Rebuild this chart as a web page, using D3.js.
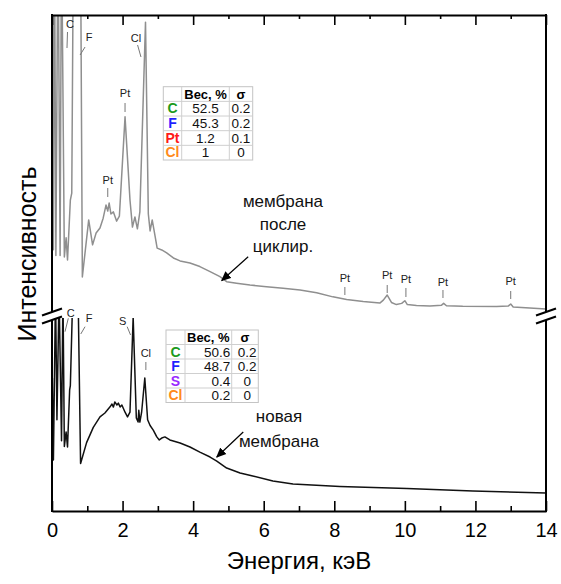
<!DOCTYPE html>
<html><head><meta charset="utf-8">
<script src="https://cdn.jsdelivr.net/npm/d3@7"></script>
<style>body{margin:0;background:#fff} svg{display:block}</style>
</head><body>
<svg id="chart" width="561" height="584"></svg>
<script>
// ---------- data ----------
const upperEnergy = [0.01,0.04,0.07,0.11,0.17,0.23,0.27,0.35,0.40,0.44,0.52,0.56,0.62,0.71,0.82,0.86,1.04,1.15,1.25,1.36,1.45,1.53,1.58,1.62,1.67,1.74,1.83,1.91,2.07,2.21,2.28,2.35,2.42,2.49,2.65,2.73,2.78,2.84,2.92,2.98,3.11,3.25,3.44,3.63,3.91,4.19,4.48,4.76,4.95,5.23,5.61,6.08,6.55,7.03,7.50,7.96,8.35,8.82,9.29,9.39,9.50,9.62,9.76,9.91,10.0,10.07,10.33,10.71,11.04,11.10,11.18,11.64,12.60,12.93,13.00,13.07,13.54,14.0];
const upperIntensity = [120,21,130,19,130,19,130,18.5,25,17.5,37.7,40,150,150,100,11.8,31,22.6,26.6,28.3,31.6,36,34,36.7,33,33.7,30.6,32.3,65.7,37.7,28.6,32,28,33.7,97.6,33,27.3,31,25.6,21.5,20.9,19.9,18.2,17.2,16.5,15.3,13.6,11.9,10.2,9.7,9.1,8.5,8.0,7.4,6.5,5.1,4.2,3.5,3.0,4.0,5.7,3.2,2.5,2.9,3.8,2.5,2.2,2.0,2.3,2.9,2.1,1.9,1.85,2.0,2.7,1.7,1.35,1.0];

const lowerEnergy = [0.01,0.04,0.10,0.14,0.20,0.27,0.31,0.35,0.40,0.44,0.50,0.52,0.57,0.62,0.70,0.75,0.81,0.98,1.17,1.36,1.50,1.64,1.70,1.74,1.78,1.84,1.88,1.93,1.98,2.07,2.14,2.21,2.30,2.39,2.44,2.46,2.49,2.54,2.63,2.71,2.78,2.87,2.97,3.04,3.11,3.20,3.34,3.63,3.91,4.19,4.48,4.67,4.95,5.33,5.69,6.26,6.83,8.16,10.06,11.93,14.0];
const lowerIntensity = [70,26.8,115,48,115,37,115,34,41.6,33.7,63.7,66,101,160,160,101,25,36,44,49.5,51.6,54.7,56.3,54.7,57.4,55.8,56.8,54.7,55.8,52,49.5,52,102,49,46.8,53,46.8,52,70,48,45,42.6,39,37.4,38.4,39,37.4,35.8,33.7,31,28.4,26.3,22.6,20,18.4,15.8,14.2,12.9,11.8,10.5,9.5];

const xMajorTicks = [0,2,4,6,8,10,12,14];
const xMinorTicks = [1,3,5,7,9,11,13];

const upperTableElements = ["C","F","Pt","Cl"];
const upperTableWeight = ["52.5","45.3","1.2","1"];
const upperTableSigma = ["0.2","0.2","0.1","0"];
const lowerTableElements = ["C","F","S","Cl"];
const lowerTableWeight = ["50.6","48.7","0.4","0.2"];
const lowerTableSigma = ["0.2","0.2","0","0"];
const tableHeader = ["", "Вес, %", "σ"];

const upperPeakLabels = ["C","F","Cl","Pt","Pt","Pt","Pt","Pt","Pt","Pt"];
const upperPeakEnergy = [0.51,1.05,2.38,2.07,1.58,8.30,9.50,10.03,11.08,13.0];
const lowerPeakLabels = ["C","F","S","Cl"];
const lowerPeakEnergy = [0.53,1.05,2.00,2.66];

const xTitle = "Энергия, кэВ";
const yTitle = "Интенсивность";
const upperCaption = ["мембрана","после","циклир."];
const lowerCaption = ["новая","мембрана"];

// ---------- layout ----------
const L=52, R=546, T=15, B=511, UB=312, LT=321;
const FONT='"Liberation Sans", Arial, sans-serif';
const x = d3.scaleLinear().domain([0,14]).range([L,R]);
const yUp = d3.scaleLinear().domain([0,100]).range([UB,T]);
const yLow = d3.scaleLinear().domain([0,100]).range([B,LT]);
const svg = d3.select('#chart');
svg.append('rect').attr('width',561).attr('height',584).attr('fill','#fff');

const defs = svg.append('defs');
defs.append('clipPath').attr('id','cu').append('rect')
  .attr('x',L).attr('y',T).attr('width',R-L).attr('height',UB-T);
defs.append('clipPath').attr('id','cl').append('rect')
  .attr('x',L).attr('y',318).attr('width',R-L).attr('height',B-318);
defs.append('marker').attr('id','ah').attr('viewBox','0 0 10 10')
  .attr('refX',9).attr('refY',5).attr('markerWidth',10).attr('markerHeight',10)
  .attr('markerUnits','userSpaceOnUse').attr('orient','auto')
  .append('path').attr('d','M0,0.5L10,5L0,9.5Z').attr('fill','#000');

// ---------- curves ----------
const lineUp = d3.line().x(d=>x(d[0])).y(d=>yUp(d[1]));
const lineLow = d3.line().x(d=>x(d[0])).y(d=>yLow(d[1]));
svg.append('path').datum(d3.zip(upperEnergy, upperIntensity))
  .attr('clip-path','url(#cu)').attr('d',lineUp)
  .attr('fill','none').attr('stroke','#8f8f8f').attr('stroke-width',1.5).attr('stroke-linejoin','round');
svg.append('path').datum(d3.zip(lowerEnergy, lowerIntensity))
  .attr('clip-path','url(#cl)').attr('d',lineLow)
  .attr('fill','none').attr('stroke','#111').attr('stroke-width',1.5).attr('stroke-linejoin','round');

// ---------- axes ----------
function styleAxis(g){ g.selectAll('path,line').attr('stroke','#000'); g.selectAll('.tick line').attr('stroke-width',1.6); g.select('.domain').attr('stroke-width',2); }
const gb = svg.append('g').attr('transform',`translate(0,${B})`)
  .call(d3.axisBottom(x).tickValues(xMajorTicks).tickSize(-10).tickSizeOuter(0).tickPadding(12).tickFormat(d3.format('d')));
styleAxis(gb);
gb.selectAll('text').attr('font-family',FONT).attr('font-size',20).attr('fill','#000');
const gbm = svg.append('g').attr('transform',`translate(0,${B})`)
  .call(d3.axisBottom(x).tickValues(xMinorTicks).tickSize(-5).tickSizeOuter(0).tickFormat(''));
gbm.select('.domain').remove(); styleAxis(gbm);
const gt = svg.append('g').attr('transform',`translate(0,${T})`)
  .call(d3.axisTop(x).tickValues(xMajorTicks).tickSize(-10).tickSizeOuter(0).tickFormat(''));
styleAxis(gt);
const gtm = svg.append('g').attr('transform',`translate(0,${T})`)
  .call(d3.axisTop(x).tickValues(xMinorTicks).tickSize(-4).tickSizeOuter(0).tickFormat(''));
gtm.select('.domain').remove(); styleAxis(gtm);

// side frame lines with break
[L,R].forEach(xs=>{
  svg.append('line').attr('x1',xs).attr('x2',xs).attr('y1',T-1).attr('y2',UB).attr('stroke','#000').attr('stroke-width',2);
  svg.append('line').attr('x1',xs).attr('x2',xs).attr('y1',LT-1).attr('y2',B+1).attr('stroke','#000').attr('stroke-width',2);
  [UB,LT-1].forEach(yy=>{
    svg.append('line').attr('x1',xs-10).attr('y1',yy+3.5).attr('x2',xs+10).attr('y2',yy-3.5)
      .attr('stroke','#000').attr('stroke-width',2);
  });
});

// ---------- titles ----------
svg.append('text').attr('x',(L+R)/2).attr('y',569).attr('text-anchor','middle')
  .attr('font-family',FONT).attr('font-size',24).text(xTitle);
svg.append('text').attr('transform',`translate(36,254) rotate(-90)`).attr('text-anchor','middle')
  .attr('font-family',FONT).attr('font-size',25).text(yTitle);

// ---------- peak labels ----------
// [text dx from anchor, text y, line x1 offset, y1, line x2 offset, y2]
const upperLabelGeom = [
  [0,28, -2.5,32, -3,48],
  [0,41, -4,47, -9,55],
  [0,42, 1.6,45, 5,57],
  [0,97, 0,103, 0,112],
  [0,184, 0,188, 0,197],
  [0,282, 0,287, 0,295],
  [0,279, 0,285, 0,293],
  [0,283, 0,288, 0,297],
  [0,286, 0,290, 0,298],
  [0,285, 0,291, 0,299]
];
const lowerLabelGeom = [
  [0,317, -2.4,318.3, -5.7,331.7],
  [0,322, -4,326.7, -8.3,334],
  [0,325, 4.6,326.7, 8,335],
  [0,357, 0,362, 0,370]
];
function peakLabels(labels, energies, geom){
  labels.forEach((t,i)=>{
    const g = geom[i], ax = x(energies[i]);
    svg.append('line').attr('x1',ax+g[2]).attr('y1',g[3]).attr('x2',ax+g[4]).attr('y2',g[5])
      .attr('stroke','#777').attr('stroke-width',1);
    svg.append('text').attr('x',ax+g[0]).attr('y',g[1]).attr('text-anchor','middle')
      .attr('font-family',FONT).attr('font-size',11).attr('fill','#222').text(t);
  });
}
peakLabels(upperPeakLabels, upperPeakEnergy, upperLabelGeom);
peakLabels(lowerPeakLabels, lowerPeakEnergy, lowerLabelGeom);

// ---------- captions & arrows ----------
upperCaption.forEach((t,i)=>{
  svg.append('text').attr('x',283).attr('y',207+i*22.5).attr('text-anchor','middle')
    .attr('font-family',FONT).attr('font-size',17).attr('fill','#111').text(t);
});
lowerCaption.forEach((t,i)=>{
  svg.append('text').attr('x',279).attr('y',422+i*25).attr('text-anchor','middle')
    .attr('font-family',FONT).attr('font-size',17).attr('fill','#111').text(t);
});
svg.append('line').attr('x1',x(5.56)).attr('y1',yUp(18.6)).attr('x2',x(4.81)).attr('y2',yUp(10.6))
  .attr('stroke','#000').attr('stroke-width',1.2).attr('marker-end','url(#ah)');
svg.append('line').attr('x1',x(5.42)).attr('y1',yLow(41.6)).attr('x2',x(4.67)).attr('y2',yLow(28.4))
  .attr('stroke','#000').attr('stroke-width',1.2).attr('marker-end','url(#ah)');

// ---------- tables ----------
const elemColor = {C:'#1c9a1c', F:'#1f1fff', Pt:'#ff1a1a', Cl:'#ff8a1a', S:'#9a2cff'};
function drawTable(x0, y0, colW, rowH, elems, weights, sigmas, alignW, sigmaCx){
  const g = svg.append('g');
  const tw = d3.sum(colW), th = rowH*(elems.length+1);
  g.append('rect').attr('x',x0).attr('y',y0).attr('width',tw).attr('height',th)
    .attr('fill','#fff').attr('stroke','#c4c4c4').attr('stroke-width',1);
  let cx = x0;
  const colX = colW.map(w=>{const s=cx; cx+=w; return s;});
  colX.slice(1).forEach(c=>g.append('line').attr('x1',c).attr('x2',c).attr('y1',y0).attr('y2',y0+th).attr('stroke','#cfcfcf'));
  for(let r=1;r<=elems.length;r++) g.append('line').attr('x1',x0).attr('x2',x0+tw).attr('y1',y0+r*rowH).attr('y2',y0+r*rowH).attr('stroke','#cfcfcf');
  const base = r => y0 + r*rowH + rowH/2 + 4.8;
  g.append('text').attr('x',colX[1]+colW[1]/2).attr('y',base(0)).attr('text-anchor','middle')
    .attr('font-family',FONT).attr('font-size',13).attr('font-weight','bold').text(tableHeader[1]);
  g.append('text').attr('x',colX[2]+colW[2]/2).attr('y',base(0)).attr('text-anchor','middle')
    .attr('font-family',FONT).attr('font-size',13).attr('font-weight','bold').text(tableHeader[2]);
  elems.forEach((e,i)=>{
    g.append('text').attr('x',colX[0]+colW[0]/2).attr('y',base(i+1)).attr('text-anchor','middle')
      .attr('font-family',FONT).attr('font-size',14).attr('font-weight','bold').attr('fill',elemColor[e]).text(e);
    const wt = g.append('text').attr('y',base(i+1)).attr('font-family',FONT).attr('font-size',13.5).attr('fill','#111').text(weights[i]);
    if(alignW==='middle') wt.attr('x',colX[1]+colW[1]/2).attr('text-anchor','middle');
    else wt.attr('x',colX[2]-1.5).attr('text-anchor','end');
    g.append('text').attr('x',colX[2]+sigmaCx).attr('y',base(i+1)).attr('text-anchor','middle')
      .attr('font-family',FONT).attr('font-size',13.5).attr('fill','#111').text(sigmas[i]);
  });
}
drawTable(163.3, 86.7, [18.4,47.6,23.4], 14.66, upperTableElements, upperTableWeight, upperTableSigma, 'middle', 11.7);
drawTable(166, 330, [19,46.7,26.6], 14.5, lowerTableElements, lowerTableWeight, lowerTableSigma, 'end', 15.5);
</script>
</body></html>
